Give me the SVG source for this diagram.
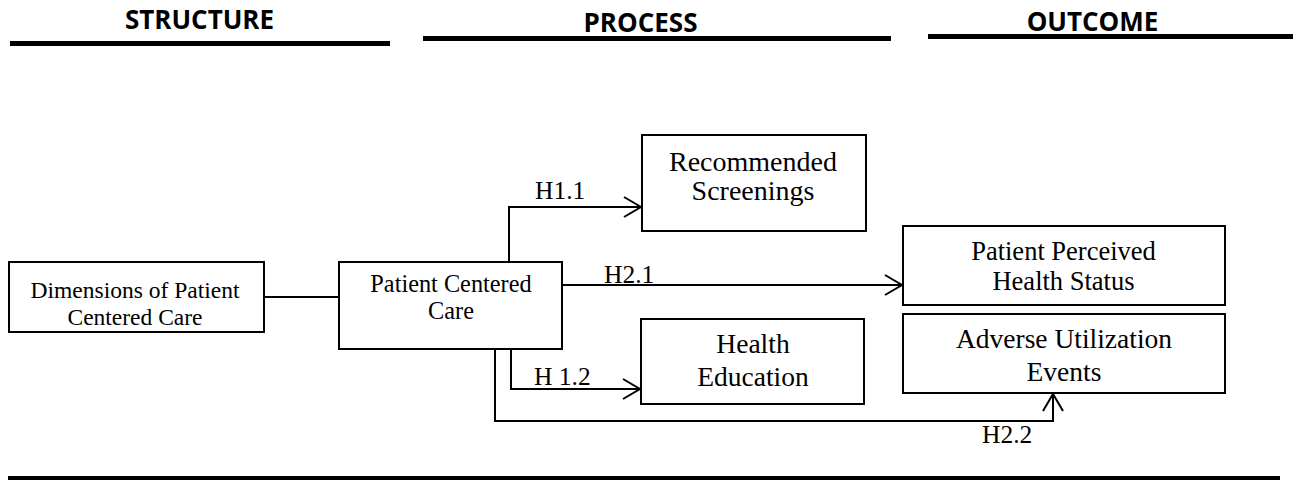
<svg xmlns="http://www.w3.org/2000/svg" width="1302" height="480" viewBox="0 0 1302 480">
<style>
.hdr{font-family:"Open Sans","Liberation Sans",sans-serif;font-weight:700;font-size:26px;fill:#000;text-anchor:middle}
.bar{fill:#000}
.box{fill:#fff;stroke:#000;stroke-width:2}
.nt{font-family:"Liberation Serif",serif;fill:#000;text-anchor:middle}
.lbl{font-family:"Liberation Serif",serif;font-size:25.5px;fill:#000}
.edge{fill:none;stroke:#000;stroke-width:2}
</style>
<defs>
<marker id="arr" markerUnits="userSpaceOnUse" markerWidth="22" markerHeight="26" refX="19" refY="13" orient="auto">
<path d="M2,3 L19,13 L2,23" fill="none" stroke="#000" stroke-width="2"/>
</marker>
</defs>
<g id="headers">
<text class="hdr" x="199.5" y="29">STRUCTURE</text>
<rect class="bar" x="10" y="41" width="380" height="5"/>
<text class="hdr" x="640.5" y="32">PROCESS</text>
<rect class="bar" x="423" y="36" width="468" height="5"/>
<text class="hdr" x="1092.5" y="31">OUTCOME</text>
<rect class="bar" x="928" y="34" width="365" height="5"/>
<rect class="bar" x="8" y="476" width="1272" height="4"/>
</g>
<g id="connectors">
<path class="edge" d="M264,297 H339"/>
<path class="edge" d="M509,262 V207 H641" marker-end="url(#arr)"/>
<path class="edge" d="M563,285 H902" marker-end="url(#arr)"/>
<path class="edge" d="M511,349 V389 H640" marker-end="url(#arr)"/>
<path class="edge" d="M495,349 V421 H1053 V394" marker-end="url(#arr)"/>
<text class="lbl" x="535" y="199">H1.1</text>
<text class="lbl" x="604" y="283">H2.1</text>
<text class="lbl" x="534" y="385">H 1.2</text>
<text class="lbl" x="982" y="443">H2.2</text>
</g>
<g id="dimensions">
<rect class="box" x="9" y="262" width="255" height="70"/>
<text class="nt" x="135" y="298" font-size="23.5">Dimensions of Patient</text>
<text class="nt" x="135" y="325" font-size="23.5">Centered Care</text>
</g>
<g id="pcc">
<rect class="box" x="339" y="262" width="223" height="87"/>
<text class="nt" x="451" y="292" font-size="24.3">Patient Centered</text>
<text class="nt" x="451" y="319" font-size="24.3">Care</text>
</g>
<g id="screenings">
<rect class="box" x="642" y="135" width="224" height="96"/>
<text class="nt" x="753" y="171" font-size="28">Recommended</text>
<text class="nt" x="753" y="200" font-size="28">Screenings</text>
</g>
<g id="education">
<rect class="box" x="641" y="319" width="223" height="85"/>
<text class="nt" x="753" y="353" font-size="27.5">Health</text>
<text class="nt" x="753" y="386" font-size="27.5">Education</text>
</g>
<g id="health-status">
<rect class="box" x="903" y="226" width="322" height="79"/>
<text class="nt" x="1063.5" y="260" font-size="26.5">Patient Perceived</text>
<text class="nt" x="1063.5" y="290" font-size="26.5">Health Status</text>
</g>
<g id="adverse">
<rect class="box" x="903" y="314" width="322" height="79"/>
<text class="nt" x="1064" y="348" font-size="27.5">Adverse Utilization</text>
<text class="nt" x="1064" y="381" font-size="27.5">Events</text>
</g>
</svg>
